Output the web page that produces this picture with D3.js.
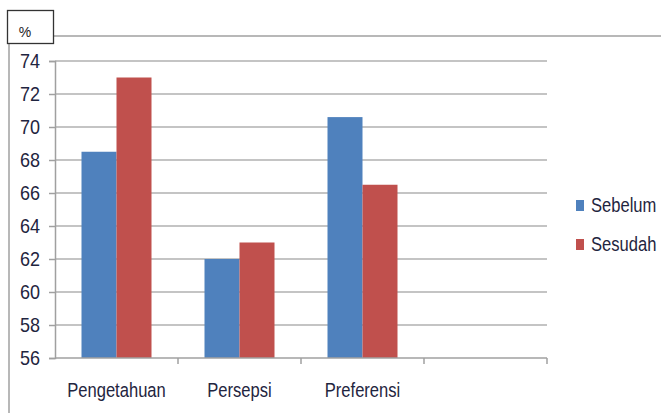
<!DOCTYPE html>
<html><head><meta charset="utf-8">
<script src="https://cdn.jsdelivr.net/npm/d3@7/dist/d3.min.js"></script>
<style>body{margin:0;background:#fff}svg{display:block}</style>
</head><body><svg id="c" width="661" height="413"></svg>
<script>
const categories = ["Pengetahuan", "Persepsi", "Preferensi", ""];
const seriesNames = ["Sebelum", "Sesudah"];
const sebelum = [68.5, 62, 70.6, null];
const sesudah = [73, 63, 66.5, null];
const yTicks = [56, 58, 60, 62, 64, 66, 68, 70, 72, 74];
const unitLabel = "%";
const colors = ["#4F81BD", "#C0504D"];

const svg = d3.select("#c");
const font = "'Liberation Sans', Arial, sans-serif";
const sx = 0.85;
const plot = {left: 55, right: 547, top: 61, bottom: 358};

const x = d3.scaleBand().domain(categories.map((c, i) => i)).range([plot.left, plot.right]).paddingInner(0).paddingOuter(0);
const y = d3.scaleLinear().domain([56, 74]).range([plot.bottom, plot.top]);
const xs = d3.scaleBand().domain([0, 1]).range([0, 70]);

// frame decorations
svg.append("line").attr("x1", 9).attr("x2", 9).attr("y1", 44).attr("y2", 413)
  .attr("stroke", "#b8b8b8").attr("stroke-width", 2);
svg.append("line").attr("x1", 54).attr("x2", 661).attr("y1", 36).attr("y2", 36)
  .attr("stroke", "#a0a0a0").attr("stroke-width", 1.5);
svg.append("rect").attr("x", 7.5).attr("y", 10.5).attr("width", 46).attr("height", 33)
  .attr("fill", "#fff").attr("stroke", "#333").attr("stroke-width", 1.3);
svg.append("text").attr("x", 25).attr("y", 37).attr("text-anchor", "middle")
  .attr("font-family", font).attr("font-size", 14).attr("fill", "#222").text(unitLabel);

// gridlines
svg.append("g").selectAll("line").data(yTicks.filter(t => t > 56)).join("line")
  .attr("x1", plot.left).attr("x2", plot.right)
  .attr("y1", d => y(d)).attr("y2", d => y(d))
  .attr("stroke", "#b0b0b0").attr("stroke-width", 1.5);

// y axis
const yAxis = svg.append("g").attr("transform", `translate(${plot.left},0)`)
  .call(d3.axisLeft(y).tickValues(yTicks).tickSize(6).tickPadding(0).tickFormat(d3.format("d")));
yAxis.select(".domain").attr("stroke", "#a0a0a0").attr("stroke-width", 1.5);
yAxis.selectAll(".tick line").attr("stroke", "#a0a0a0").attr("stroke-width", 1.5);
yAxis.selectAll(".tick text").remove();
svg.append("g").selectAll("text").data(yTicks).join("text")
  .attr("transform", d => `translate(40,${y(d) + 7}) scale(0.9,1)`)
  .attr("text-anchor", "end").attr("font-family", font).attr("font-size", 20)
  .attr("fill", "#1f2540").text(d => d);

// bars
const g = svg.append("g");
categories.forEach((c, i) => {
  [sebelum[i], sesudah[i]].forEach((v, s) => {
    if (v == null) return;
    const bx = x(i) + x.bandwidth() / 2 - 35 + xs(s);
    g.append("rect").attr("x", bx).attr("width", xs.bandwidth())
      .attr("y", y(v)).attr("height", y(56) - y(v)).attr("fill", colors[s]);
  });
});

// x axis
const xAxis = svg.append("g").attr("transform", `translate(0,${plot.bottom})`);
xAxis.append("line").attr("x1", plot.left).attr("x2", plot.right).attr("y1", 0).attr("y2", 0)
  .attr("stroke", "#a0a0a0").attr("stroke-width", 1.5);
xAxis.selectAll("line.t").data(categories.map((c, i) => i)).join("line").attr("class", "t")
  .attr("x1", i => x(i) + x.bandwidth()).attr("x2", i => x(i) + x.bandwidth())
  .attr("y1", 0).attr("y2", 6).attr("stroke", "#a0a0a0").attr("stroke-width", 1.5);
svg.append("g").selectAll("text").data(categories).join("text")
  .attr("transform", (d, i) => `translate(${x(i) + x.bandwidth() / 2},397) scale(${sx},1)`)
  .attr("text-anchor", "middle").attr("font-family", font).attr("font-size", 19.5)
  .attr("fill", "#1f2540").text(d => d);

// legend
const legY = [212, 251];
seriesNames.forEach((n, s) => {
  svg.append("rect").attr("x", 576).attr("y", legY[s] - 12).attr("width", 8).attr("height", 11)
    .attr("fill", colors[s]);
  svg.append("text").attr("transform", `translate(591,${legY[s]}) scale(${sx},1)`)
    .attr("font-family", font).attr("font-size", 19.5).attr("fill", "#1f2540").text(n);
});
</script></body></html>
